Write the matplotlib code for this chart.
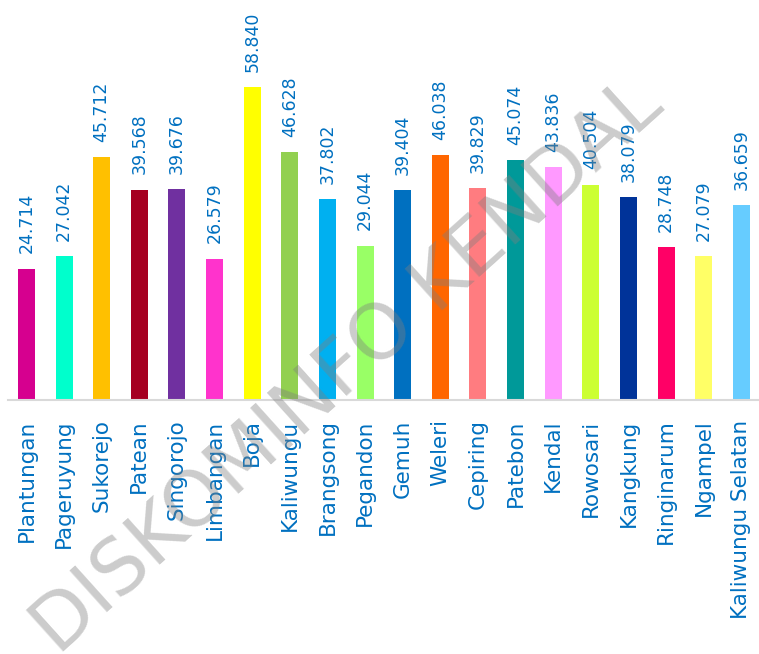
import matplotlib
matplotlib.use("Agg")
import matplotlib.pyplot as plt

# ───── Data ─────
kecamatan = ["Plantungan", "Pageruyung", "Sukorejo", "Patean", "Singorojo",
             "Limbangan", "Boja", "Kaliwungu", "Brangsong", "Pegandon",
             "Gemuh", "Weleri", "Cepiring", "Patebon", "Kendal",
             "Rowosari", "Kangkung", "Ringinarum", "Ngampel", "Kaliwungu Selatan"]
nilai = [24.714, 27.042, 45.712, 39.568, 39.676,
         26.579, 58.840, 46.628, 37.802, 29.044,
         39.404, 46.038, 39.829, 45.074, 43.836,
         40.504, 38.079, 28.748, 27.079, 36.659]
warna = ["#D6008F", "#00FFCC", "#FFC000", "#A50021", "#7030A0",
         "#FF33CC", "#FFFF00", "#92D050", "#00B0F0", "#99FF66",
         "#0070C0", "#FF6600", "#FF7C80", "#009999", "#FF99FF",
         "#CCFF33", "#003399", "#FF0066", "#FFFF66", "#66CCFF"]

BLUE = "#0070C0"

# ───── Figure ─────
fig = plt.figure(figsize=(7.59, 6.54), dpi=100)
ax = fig.add_axes([8 / 759, 1 - 400 / 654, 1 - 8 / 759, 400 / 654])

x = range(len(kecamatan))
ax.bar(x, nilai, width=0.45, color=warna, zorder=2)

ax.set_xlim(-0.49, 19.47)
ax.set_ylim(0, 75.2)

# value labels above bars
for xi, v in zip(x, nilai):
    ax.annotate(f"{v:.3f}", (xi, v), xytext=(0, 11), textcoords="offset points",
                rotation=90, ha="center", va="bottom", fontsize=12.5, color=BLUE)

ax.set_xticks(list(x))
ax.set_xticklabels(kecamatan, rotation=90, fontsize=15.5, color=BLUE, va="top", ha="center")
ax.tick_params(axis="x", length=0, pad=14)
ax.set_yticks([])

for s in ["top", "right", "left"]:
    ax.spines[s].set_visible(False)
ax.spines["bottom"].set_color("#D9D9D9")
ax.spines["bottom"].set_linewidth(1.5)

# ───── Watermark ─────
fig.text(0.458, 0.438, "DISKOMINFO KENDAL", rotation=42, ha="center", va="center",
         fontsize=55, color="#7F7F7F", alpha=0.4, zorder=10)

fig.savefig("out.png", dpi=100)
